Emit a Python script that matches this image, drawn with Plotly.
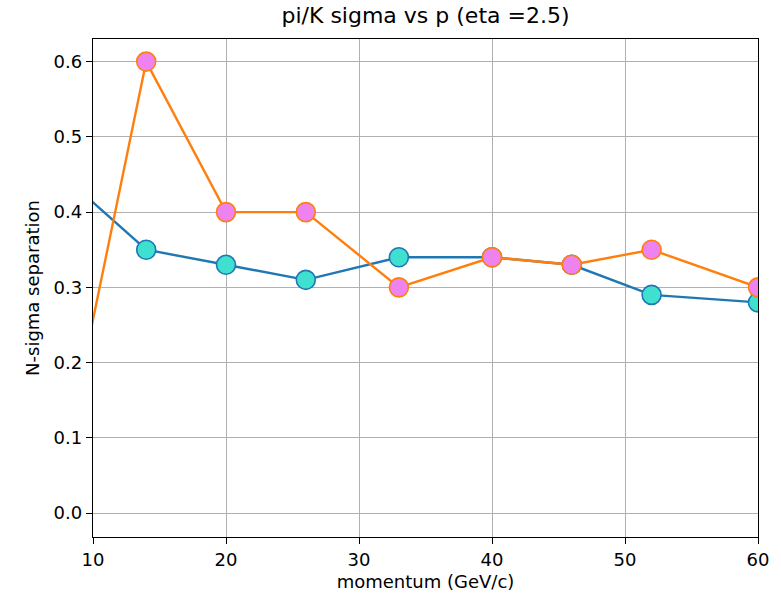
import plotly.graph_objects as go

momentum = [7, 14, 20, 26, 33, 40, 46, 52, 60]
sep_blue = [0.46, 0.35, 0.33, 0.31, 0.34, 0.34, 0.33, 0.29, 0.28]
sep_orange = [0.0, 0.60, 0.40, 0.40, 0.30, 0.34, 0.33, 0.35, 0.30]
x_ticks = [10, 20, 30, 40, 50, 60]
y_ticks = [0.0, 0.1, 0.2, 0.3, 0.4, 0.5, 0.6]

fig = go.Figure()
fig.add_trace(go.Scatter(
    x=momentum, y=sep_blue, mode="lines+markers",
    line=dict(color="#1f77b4", width=2.4),
    marker=dict(size=19, color="#40E0D0", line=dict(color="#1f77b4", width=1.6)),
    cliponaxis=True, showlegend=False))
fig.add_trace(go.Scatter(
    x=momentum, y=sep_orange, mode="lines+markers",
    line=dict(color="#ff7f0e", width=2.4),
    marker=dict(size=19, color="#EE82EE", line=dict(color="#ff7f0e", width=1.6)),
    cliponaxis=True, showlegend=False))

axis_common = dict(
    showline=True, linecolor="black", linewidth=1.3, mirror=True,
    showgrid=True, gridcolor="#b0b0b0", gridwidth=1.3,
    ticks="outside", ticklen=6, tickwidth=1.3, tickcolor="black",
    zeroline=False, tickfont=dict(family="DejaVu Sans", size=18, color="black"),
)

fig.update_xaxes(range=[10, 60], tickvals=x_ticks, ticktext=[str(v) for v in x_ticks],
                 title=dict(text="momentum (GeV/c)", font=dict(family="DejaVu Sans", size=18, color="black"), standoff=6),
                 **axis_common)
fig.update_yaxes(range=[-0.0317, 0.63], tickvals=y_ticks, ticktext=[f"{v:.1f}" for v in y_ticks],
                 title=dict(text="N-sigma separation", font=dict(family="DejaVu Sans", size=18, color="black"), standoff=9),
                 **axis_common)

fig.update_layout(
    width=781, height=600,
    margin=dict(l=93, r=17, t=39, b=60),
    paper_bgcolor="white", plot_bgcolor="white",
    title=dict(text="pi/K sigma vs p (eta =2.5)", x=0.5, xanchor="center",
               xref="paper", y=1, yref="container", yanchor="top", pad=dict(t=8),
               font=dict(family="DejaVu Sans", size=22, color="black")),
    font=dict(family="DejaVu Sans"),
)

fig.write_html("out.html")
